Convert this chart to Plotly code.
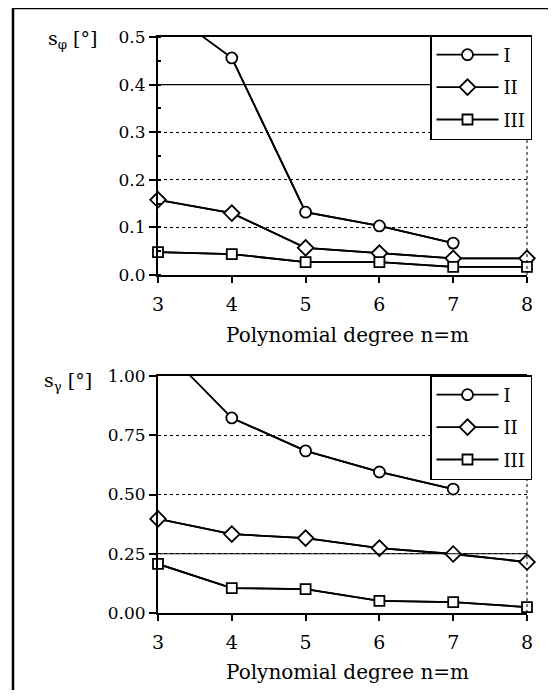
import plotly.graph_objects as go

# ---------------- data ----------------
degrees = [3, 4, 5, 6, 7, 8]
degrees_I = [3, 4, 5, 6, 7]

phi_I = [0.57, 0.456, 0.132, 0.103, 0.067]
phi_II = [0.158, 0.130, 0.057, 0.046, 0.035, 0.035]
phi_III = [0.048, 0.044, 0.027, 0.027, 0.017, 0.017]

gam_I = [1.14, 0.823, 0.684, 0.595, 0.523]
gam_II = [0.397, 0.333, 0.316, 0.274, 0.249, 0.215]
gam_III = [0.207, 0.105, 0.101, 0.051, 0.046, 0.025]

series_names = ["I", "II", "III"]
phi_ticks = [0.0, 0.1, 0.2, 0.3, 0.4, 0.5]
gam_ticks = [0.0, 0.25, 0.5, 0.75, 1.0]

# ---------------- layout helpers ----------------
OFF = 8  # default page body margin
W, H = 556 - 2 * OFF, 698 - 2 * OFF
FONT = "DejaVu Serif"


def px(x):
    return (x - OFF) / W


def py(y):
    return 1 - (y - OFF) / H


symbols = ["circle", "diamond", "square"]
sizes = [11, 12, 10]

fig = go.Figure()


def add_series(xs, ys, ymax, idx, xa, ya, legend):
    inrange = [v if v <= ymax else None for v in ys]
    # full line, clipped to the plot area (values beyond the top run off)
    fig.add_trace(go.Scatter(
        x=xs, y=ys, mode="lines", xaxis=xa, yaxis=ya,
        line=dict(color="black", width=1.8), cliponaxis=True,
        showlegend=False, hoverinfo="skip"))
    # visible points with markers (unclipped so edge markers stay whole)
    fig.add_trace(go.Scatter(
        x=xs, y=inrange, mode="lines+markers", xaxis=xa, yaxis=ya,
        name=series_names[idx], legend=legend, legendgroup=legend + str(idx),
        line=dict(color="black", width=1.8), cliponaxis=False,
        marker=dict(symbol=symbols[idx], size=sizes[idx], color="white",
                    line=dict(color="black", width=1.8))))


add_series(degrees_I, phi_I, 0.5, 0, "x", "y", "legend")
add_series(degrees, phi_II, 0.5, 1, "x", "y", "legend")
add_series(degrees, phi_III, 0.5, 2, "x", "y", "legend")
add_series(degrees_I, gam_I, 1.0, 0, "x2", "y2", "legend2")
add_series(degrees, gam_II, 1.0, 1, "x2", "y2", "legend2")
add_series(degrees, gam_III, 1.0, 2, "x2", "y2", "legend2")

xdom = [px(158), px(527)]
top_dom = [py(275), py(37)]
bot_dom = [py(613), py(376)]

xcommon = dict(range=[3, 8], tickvals=degrees, ticks="outside", ticklen=6,
               tickwidth=1.5, tickcolor="black", showline=True,
               linecolor="black", linewidth=2, mirror=True, showgrid=False,
               zeroline=False, automargin=False, ticklabelstandoff=5,
               tickfont=dict(family=FONT, size=19, color="black"))
ycommon = dict(ticks="outside", ticklen=7, tickwidth=1.5, tickcolor="black",
               showline=True, linecolor="black", linewidth=2, showgrid=True,
               gridcolor="black", gridwidth=1, griddash="dot", zeroline=False,
               automargin=False,
               tickfont=dict(family=FONT, size=17, color="black"))

legcommon = dict(xanchor="left", yanchor="top", bgcolor="white",
                 bordercolor="black", borderwidth=1.5, itemwidth=62,
                 tracegroupgap=6,
                 font=dict(family=FONT, size=18, color="black"))

fig.update_layout(
    template="none",
    font=dict(family=FONT, color="black"),
    width=W, height=H, autosize=False,
    margin=dict(l=0, r=0, t=0, b=0, pad=0, autoexpand=False),
    paper_bgcolor="white", plot_bgcolor="white",
    showlegend=True,
    xaxis=dict(domain=xdom, anchor="y", **xcommon),
    yaxis=dict(domain=top_dom, anchor="x", range=[0, 0.5], tickvals=phi_ticks,
               tickformat=".1f",
               minor=dict(ticks="inside", ticklen=3, dtick=0.05,
                          tickcolor="black", showgrid=False),
               **ycommon),
    xaxis2=dict(domain=xdom, anchor="y2", **xcommon),
    yaxis2=dict(domain=bot_dom, anchor="x2", range=[0, 1.0], tickvals=gam_ticks,
                tickformat=".2f", **ycommon),
    legend=dict(x=px(430), y=py(35), **legcommon),
    legend2=dict(x=px(430), y=py(375), **legcommon),
)

shapes = [
    # outer frame of the figure
    dict(type="rect", xref="paper", yref="paper", x0=px(13), x1=1.05,
         y0=-0.05, y1=py(8), line=dict(color="black", width=2.5)),
    # dotted right edges of the plot areas
    dict(type="line", xref="x domain", yref="y domain", x0=1, x1=1, y0=0, y1=1,
         line=dict(color="black", width=1, dash="dot")),
    dict(type="line", xref="x2 domain", yref="y2 domain", x0=1, x1=1, y0=0, y1=1,
         line=dict(color="black", width=1, dash="dot")),
    # gridlines drawn solid in the original
    dict(type="line", xref="x domain", yref="y", x0=0, x1=1, y0=phi_ticks[4],
         y1=phi_ticks[4], line=dict(color="black", width=1.2)),
    dict(type="line", xref="x2 domain", yref="y2", x0=0, x1=1, y0=gam_ticks[1],
         y1=gam_ticks[1], line=dict(color="black", width=1.2)),
]
fig.update_layout(shapes=shapes)

ann_font = dict(family=FONT, size=19, color="black")
fig.add_annotation(text="s<sub>φ</sub> [°]", xref="paper", yref="paper",
                   x=px(46), y=py(40), xanchor="left", yanchor="middle",
                   showarrow=False, font=ann_font)
fig.add_annotation(text="s<sub>γ</sub> [°]", xref="paper", yref="paper",
                   x=px(42), y=py(382), xanchor="left", yanchor="middle",
                   showarrow=False, font=ann_font)
fig.add_annotation(text="Polynomial degree n=m", xref="paper", yref="paper",
                   x=px(347), y=py(335), xanchor="center", yanchor="middle",
                   showarrow=False, font=dict(family=FONT, size=20, color="black"))
fig.add_annotation(text="Polynomial degree n=m", xref="paper", yref="paper",
                   x=px(347), y=py(672), xanchor="center", yanchor="middle",
                   showarrow=False, font=dict(family=FONT, size=20, color="black"))

fig.write_html("out.html", config={"displayModeBar": False, "responsive": False})
